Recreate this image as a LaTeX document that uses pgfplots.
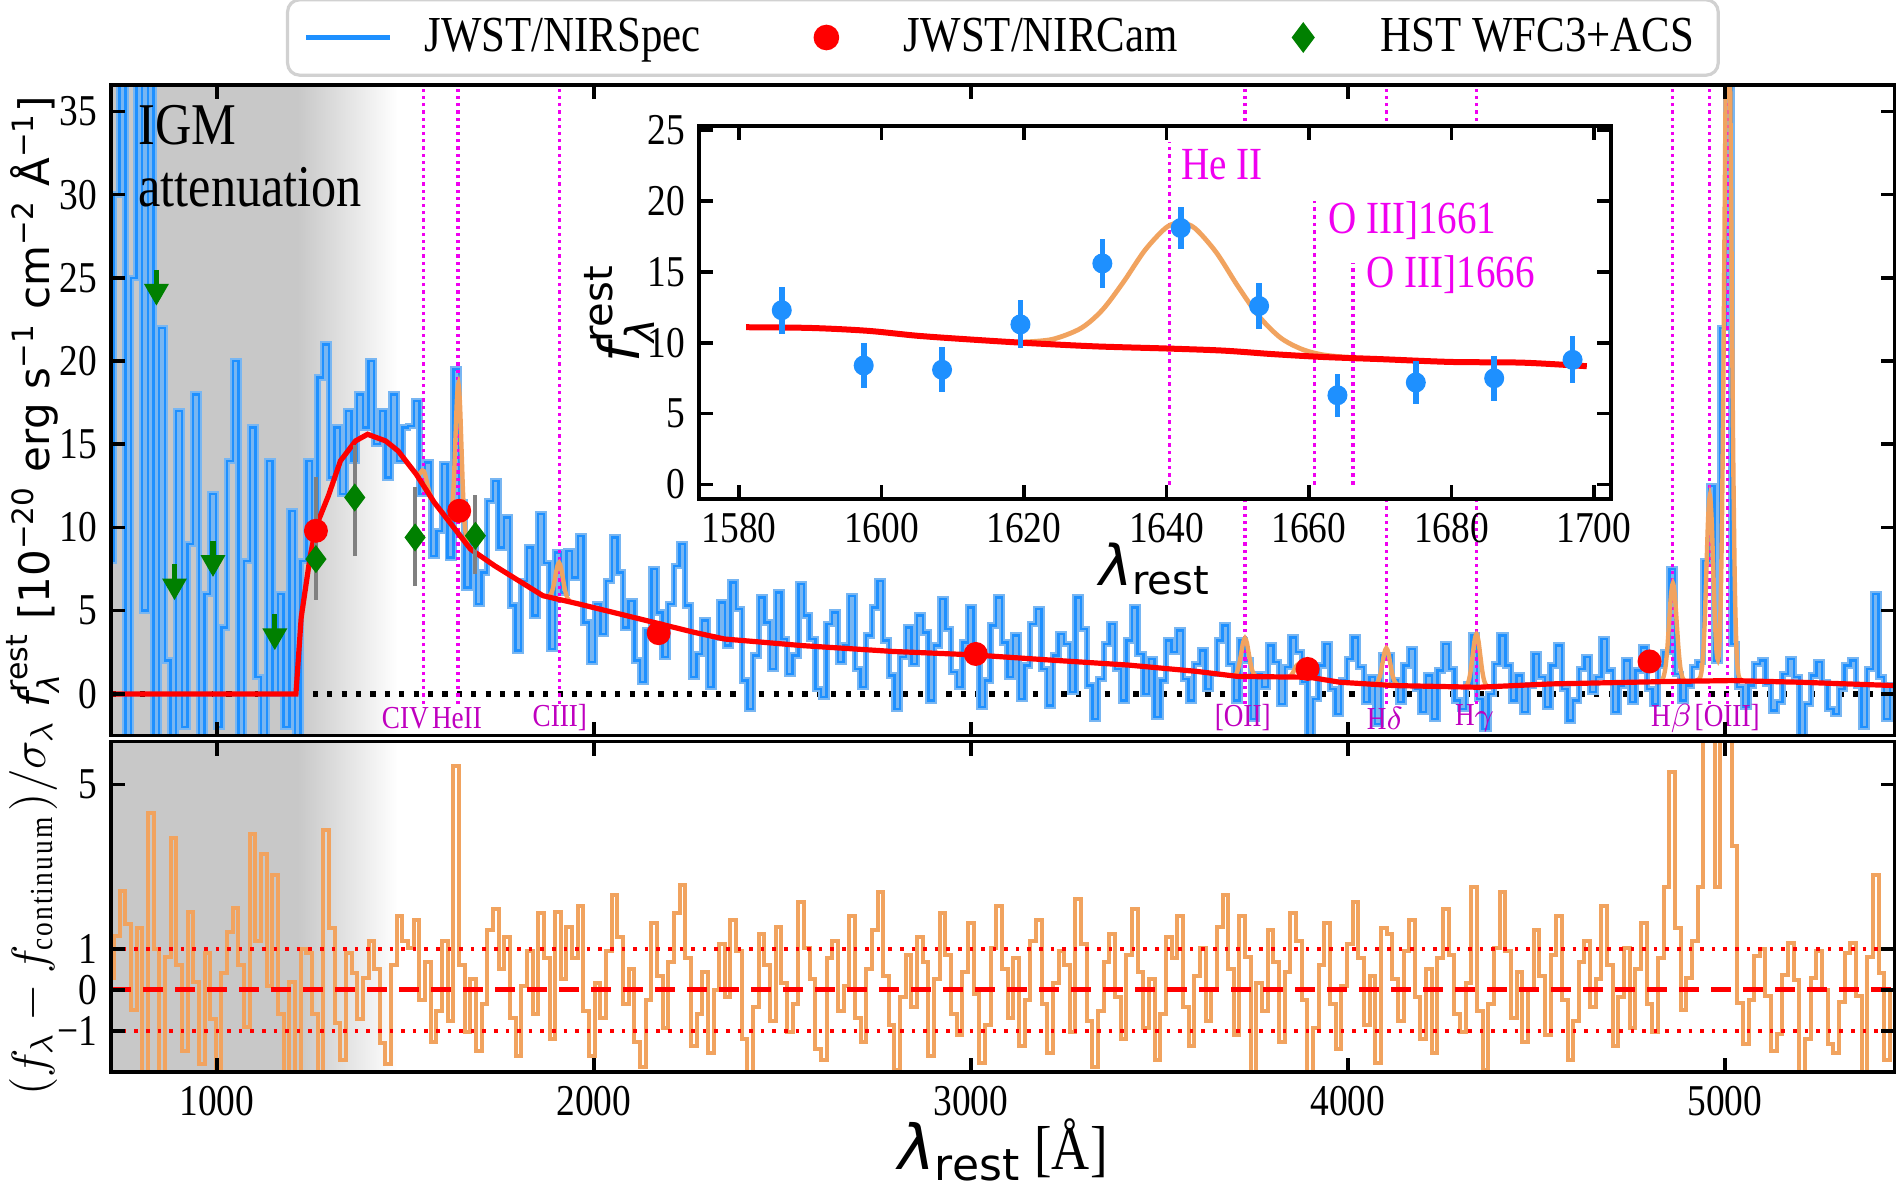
\documentclass[border=0pt]{standalone}
\usepackage{fontspec}
\setmainfont{Liberation Serif}[FakeStretch=0.85]
\newfontfamily\dejavu{DejaVu Sans}
\usepackage{pgfplots}
\usepackage{pgfplotstable}
\pgfplotsset{compat=1.18}
\definecolor{nirblue}{RGB}{30,144,255}
\definecolor{nirband}{RGB}{120,182,242}
\definecolor{modorange}{RGB}{241,163,95}
\definecolor{hstgreen}{RGB}{0,128,0}
\definecolor{lmag}{RGB}{240,0,240}
\definecolor{dmag}{RGB}{191,0,191}
\definecolor{igmgray}{RGB}{200,200,200}

\newcommand{\flam}[2]{$\hbox{\dejavu\itshape\fontsize{#1}{#1}\selectfont f}^{\hbox{\dejavu\fontsize{#2}{#2}\selectfont rest}}_{\hbox{\dejavu\itshape\fontsize{#2}{#2}\selectfont λ}}$}

\pgfplotsset{
  mystyle/.style={
    scale only axis,
    tick align=inside,
    xtick pos=both, ytick pos=both,
    major tick length=3.5pt,
    tick style={black, line width=0.9pt},
    axis line style={line width=0.9pt},
    tick label style={font=\fontsize{11}{12}\selectfont},
    /pgf/number format/assume math mode=true,
    /pgf/number format/1000 sep={},
    axis on top,
  },
  myline legend/.style={legend image code/.code={\draw[##1] (0pt,0pt) -- (21pt,0pt);}},
  mymark legend/.style={legend image code/.code={\path (0pt,0pt) (21pt,0pt); \draw[##1] plot coordinates {(10pt,0pt)};}},
}

\pgfplotstableread{
x y
720 8
735 30
750 38
765 -3
780 25
795 40
810 5
825 38
840 -4
855 22
870 2
885 -3
900 17
915 -2
930 9
945 18
960 -3
975 6
990 12
1005 -2
1020 4
1035 14
1050 20
1065 -3
1080 8
1095 16
1110 1
1125 -3
1140 14
1155 0
1170 6
1185 -2
1200 11
1215 -3
1230 8
1245 14
1260 10
1275 19
1290 21
1305 13
1320 16
1335 12
1350 17
1365 14
1380 18
1395 16
1410 20
1425 15
1440 17
1455 13
1470 18
1485 14
1500 16
1515 16.1
1530 17.6
1545 12.0
1560 13.9
1575 8.3
1590 9.8
1605 13.8
1620 8.2
1635 19.5
1650 11.5
1665 6.4
1680 9.3
1695 5.4
1710 7.3
1725 11.6
1740 12.8
1755 8.8
1770 10.6
1785 5.3
1800 2.6
1815 6.8
1830 8.8
1845 4.7
1860 10.8
1875 7.85
1890 2.7
1905 8.5
1920 6.1
1935 8.6
1950 7.0
1965 9.5
1980 4.3
1995 1.9
2010 5.4
2025 3.6
2040 6.8
2055 9.4
2070 7.3
2085 4.0
2100 5.6
2115 2.0
2130 0.7
2145 3.8
2160 7.5
2175 4.9
2190 2.2
2205 5.4
2220 7.7
2235 9.0
2250 5.3
2265 1.0
2280 2.4
2295 4.4
2310 0.4
2325 3.4
2340 5.5
2355 2.9
2370 6.7
2385 5.1
2400 0.8
2415 -0.9
2430 2.3
2445 5.8
2460 4.3
2475 1.5
2490 6.1
2505 3.3
2520 1.2
2535 2.3
2550 6.6
2565 4.7
2580 3.3
2595 0.3
2610 -0.2
2625 4.2
2640 4.9
2655 1.9
2670 2.9
2685 5.9
2700 1.5
2715 0.4
2730 3.5
2745 5.2
2760 6.8
2775 3.2
2790 1.1
2805 -0.9
2820 2.2
2835 4.0
2850 1.8
2865 4.7
2880 3.7
2895 -0.4
2910 2.9
2925 5.7
2940 3.9
2955 1.3
2970 0.4
2985 3.1
3000 5.2
3015 2.2
3030 -0.8
3045 0.8
3060 4.1
3075 5.8
3090 3.1
3105 1.0
3120 3.5
3135 -0.3
3150 1.7
3165 4.2
3180 5.1
3195 1.5
3210 -0.7
3225 2.3
3240 3.6
3255 3.0
3270 0.1
3285 5.8
3300 3.9
3315 0.5
3330 -1.5
3345 0.9
3360 3.0
3375 4.2
3390 1.5
3405 -0.4
3420 3.2
3435 5.2
3450 2.4
3465 0.0
3480 2.1
3495 -1.4
3510 0.8
3525 3.2
3540 2.5
3555 3.8
3570 0.9
3585 -0.4
3600 1.8
3615 2.6
3630 0.3
3645 1.2
3660 3.2
3675 4.1
3690 1.8
3705 -0.4
3720 3.2
3735 2.0
3750 -1.5
3765 1.2
3780 0.4
3795 2.9
3810 1.9
3825 -0.6
3840 1.6
3855 3.4
3870 2.5
3885 0.7
3900 -2.5
3915 -0.3
3930 1.7
3945 3.0
3960 0.3
3975 -1.2
3990 0.8
4005 2.1
4020 3.4
4035 1.6
4050 -0.5
4065 1.0
4080 -1.8
4095 2.3
4110 2.3
4125 0.8
4140 -0.5
4155 1.7
4170 2.7
4185 0.3
4200 -1.1
4215 1.1
4230 -1.5
4245 1.4
4260 3.0
4275 1.5
4290 -0.4
4305 -0.9
4320 0.6
4335 3.5
4350 -0.3
4365 -2.1
4380 0.0
4395 1.8
4410 3.5
4425 1.7
4440 -0.4
4455 1.1
4470 -1.1
4485 0.5
4500 2.4
4515 1.0
4530 -0.8
4545 1.7
4560 2.9
4575 0.3
4590 -1.6
4605 -0.4
4620 1.5
4635 2.2
4650 0.1
4665 1.0
4680 3.3
4695 1.4
4710 -1.1
4725 0.5
4740 2.0
4755 -0.5
4770 1.4
4785 2.8
4800 0.3
4815 -0.6
4830 1.7
4845 2.5
4860 7.5
4875 1.2
4890 -0.4
4905 0.5
4920 1.6
4935 1.9
4950 8.0
4965 12.5
4980 2.0
4995 22
5010 37
5025 3.0
5040 0.4
5055 -0.8
5070 0.5
5085 1.8
5100 2.0
5115 0.6
5130 -1.0
5145 -0.5
5160 1.2
5175 2.1
5190 1.0
5205 -2.5
5220 -0.6
5235 1.1
5250 1.9
5265 0.7
5280 -0.9
5295 -1.2
5310 0.3
5325 1.7
5340 2.0
5355 0.5
5370 -2.0
5385 1.5
5400 6.0
5415 1.0
5430 -1.5
5445 0.5
}\spec

\pgfplotstableread{
x y
720 0.3
735 1.3
750 2.4
765 1.6
780 -0.5
795 1.5
810 -2.2
825 4.3
840 1.0
855 -2.2
870 0.8
885 3.7
900 0.6
915 -1.5
930 1.9
945 0.2
960 -1.8
975 0.9
990 -0.7
1005 -2.3
1020 0.4
1035 1.4
1050 2.0
1065 0.6
1080 -0.9
1095 3.8
1110 1.2
1125 3.3
1140 0.1
1155 2.8
1170 -0.6
1185 -2.3
1200 0.2
1215 -2.5
1230 1.0
1245 0.9
1260 -0.6
1275 -2.3
1290 3.9
1305 1.5
1320 -0.8
1335 -1.7
1350 0.9
1365 0.4
1380 -0.7
1395 0.3
1410 1.2
1425 0.5
1440 -1.3
1455 -1.8
1470 0.6
1485 1.8
1500 1.2
1515 1.02
1530 1.7
1545 -0.26
1560 0.68
1575 -1.28
1590 -0.51
1605 1.19
1620 -0.77
1635 5.45
1650 0.6
1665 -1.02
1680 0.26
1695 -1.5
1710 -0.34
1725 1.45
1740 1.96
1755 0.51
1770 1.28
1785 -0.68
1800 -1.62
1815 0.09
1830 0.94
1845 -0.6
1860 1.87
1875 0.77
1890 -1.19
1905 1.9
1920 0.26
1935 1.53
1950 0.77
1965 2.04
1980 -0.51
1995 -1.62
2010 0.17
2025 -0.68
2040 0.94
2055 2.3
2070 1.28
2085 -0.34
2100 0.51
2115 -1.28
2130 -1.87
2145 -0.26
2160 1.62
2175 0.34
2190 -0.94
2205 0.68
2220 1.87
2235 2.55
2250 0.77
2265 -1.36
2280 -0.6
2295 0.43
2310 -1.53
2325 0.0
2340 1.11
2355 -0.17
2370 1.7
2385 0.94
2400 -1.19
2415 -2.04
2430 -0.43
2445 1.36
2460 0.6
2475 -0.77
2490 1.53
2505 0.17
2520 -1.02
2535 -0.34
2550 2.13
2565 1.02
2580 0.26
2595 -1.45
2610 -1.7
2625 0.77
2640 1.19
2655 -0.51
2670 0.09
2685 1.79
2700 -0.68
2715 -1.28
2730 0.51
2745 1.45
2760 2.38
2775 0.34
2790 -0.85
2805 -1.96
2820 -0.17
2835 0.85
2850 -0.43
2865 1.28
2880 0.68
2895 -1.62
2910 0.26
2925 1.87
2940 0.85
2955 -0.6
2970 -1.11
2985 0.43
3000 1.62
3015 -0.09
3030 -1.79
3045 -0.85
3060 1.02
3075 2.04
3090 0.51
3105 -0.68
3120 0.77
3135 -1.36
3150 -0.26
3165 1.19
3180 1.7
3195 -0.34
3210 -1.53
3225 0.17
3240 0.94
3255 0.6
3270 -1.02
3285 2.21
3300 1.11
3315 -0.77
3330 -1.87
3345 -0.51
3360 0.68
3375 1.36
3390 -0.17
3405 -1.19
3420 0.85
3435 1.96
3450 0.43
3465 -0.94
3480 0.26
3495 -1.7
3510 -0.6
3525 1.28
3540 0.77
3555 1.79
3570 -0.43
3585 -1.36
3600 0.34
3615 1.02
3630 -0.77
3645 0.0
3660 1.53
3675 2.3
3690 0.51
3705 -1.11
3720 1.8
3735 0.8
3750 -2.1
3765 0.17
3780 -0.51
3795 1.45
3810 0.68
3825 -1.28
3840 0.43
3855 1.87
3870 1.19
3885 -0.26
3900 -2.9
3915 -0.94
3930 0.6
3945 1.62
3960 -0.34
3975 -1.45
3990 0.09
4005 1.11
4020 2.13
4035 0.77
4050 -0.85
4065 0.34
4080 -1.79
4095 1.5
4110 1.36
4125 0.26
4140 -0.77
4155 0.94
4170 1.7
4185 -0.17
4200 -1.19
4215 0.51
4230 -1.53
4245 0.77
4260 1.96
4275 0.85
4290 -0.6
4305 -1.02
4320 0.17
4335 2.5
4350 -0.51
4365 -1.96
4380 -0.34
4395 1.02
4410 2.38
4425 0.94
4440 -0.68
4455 0.43
4470 -1.28
4485 0.0
4500 1.45
4515 0.34
4530 -1.11
4545 0.85
4560 1.79
4575 -0.26
4590 -1.7
4605 -0.77
4620 0.68
4635 1.19
4650 -0.43
4665 0.26
4680 2.04
4695 0.6
4710 -1.36
4725 -0.17
4740 1.02
4755 -0.94
4770 0.51
4785 1.62
4800 -0.34
4815 -1.02
4830 0.77
4845 2.5
4860 5.3
4875 1.5
4890 -0.5
4905 0.3
4920 1.2
4935 2.5
4950 6.5
4965 6.5
4980 2.5
4995 6.5
5010 6.5
5025 3.5
5040 -0.33
5055 -1.33
5070 -0.25
5085 0.83
5100 1.0
5115 -0.15
5130 -1.5
5145 -1.08
5160 0.37
5175 1.15
5190 0.25
5205 -2.6
5220 -1.2
5235 0.3
5250 0.95
5265 0.0
5280 -1.33
5295 -1.55
5310 -0.3
5325 0.9
5340 1.15
5355 -0.15
5370 -2.2
5385 0.8
5400 2.8
5415 0.4
5430 -1.7
5445 0.0
}\resid

\begin{document}
\begin{tikzpicture}
\path[use as bounding box] (-27.8pt,-112.8pt) rectangle (446.5pt,183.9pt);

% ================= TOP PANEL =================
\begin{axis}[mystyle, name=top, at={(0pt,0pt)}, anchor=south west,
  width=445.9pt, height=162.7pt,
  xmin=720, xmax=5450, ymin=-2.5, ymax=36.6,
  xtick={1000,2000,3000,4000,5000}, xticklabels={},
  ytick={0,5,10,15,20,25,30,35},
  ylabel={\flam{10.5}{7.5}{\dejavu\fontsize{10.5}{12}\selectfont\ [10\textsuperscript{−20} erg s\textsuperscript{−1} cm\textsuperscript{−2} Å\textsuperscript{−1}]}},
  ylabel style={at={(axis description cs:-0.0437,0.513)}, anchor=center},
  legend style={at={(0.5,1)}, anchor=south, yshift=2pt, legend columns=3,
    draw=black!18, line width=0.8pt, rounded corners=3pt,
    font=\fontsize{12.6}{14}\selectfont, inner xsep=4pt, inner ysep=2.5pt,
    /tikz/every odd column/.append style={column sep=6pt},
    /tikz/every even column/.append style={column sep=19pt}},
  legend cell align=left,
]
\addlegendimage{myline legend, nirblue, line width=1.3pt}
\addlegendentry{JWST/NIRSpec}
\addlegendimage{mymark legend, only marks, mark=*, red, mark size=2.8pt}
\addlegendentry{JWST/NIRCam}
\addlegendimage{mymark legend, only marks, mark=diamond*, hstgreen, mark size=3.2pt}
\addlegendentry{HST WFC3+ACS}

\fill[igmgray] (axis cs:700,-5) rectangle (axis cs:1215,40);
\shade[left color=igmgray, right color=white] (axis cs:1215,-5) rectangle (axis cs:1480,40);

\addplot[forget plot, black, line width=1.3pt, dash pattern=on 1.3pt off 2.3pt] coordinates {(720,0) (5450,0)};

\addplot[forget plot, const plot mark mid, nirband, line width=1.6pt] table[x=x,y=y]{\spec};
\addplot[forget plot, const plot mark mid, nirblue, line width=0.6pt] table[x=x,y=y]{\spec};

% line markers
\addplot[forget plot, lmag, densely dotted, line width=0.8pt] coordinates {(1549,-0.6) (1549,36.6)};
\addplot[forget plot, lmag, densely dotted, line width=0.8pt] coordinates {(1640,-0.6) (1640,36.6)};
\addplot[forget plot, lmag, densely dotted, line width=0.8pt] coordinates {(1908,-0.6) (1908,36.6)};
\addplot[forget plot, lmag, densely dotted, line width=0.8pt] coordinates {(3727,-0.6) (3727,36.6)};
\addplot[forget plot, lmag, densely dotted, line width=0.8pt] coordinates {(4102,-0.6) (4102,36.6)};
\addplot[forget plot, lmag, densely dotted, line width=0.8pt] coordinates {(4341,-0.6) (4341,36.6)};
\addplot[forget plot, lmag, densely dotted, line width=0.8pt] coordinates {(4861,-0.6) (4861,36.6)};
\addplot[forget plot, lmag, densely dotted, line width=0.8pt] coordinates {(4959,-0.6) (4959,36.6)};
\addplot[forget plot, lmag, densely dotted, line width=0.8pt] coordinates {(5007,-0.6) (5007,36.6)};

% model with lines (orange)
\addplot[forget plot, modorange, line width=1.1pt, smooth] coordinates {(1525,13.35)(1529,13.24)(1533,13.18)(1537,13.21)(1541,13.32)(1545,13.42)(1549,13.39)(1553,13.14)(1557,12.76)(1561,12.36)(1565,12.05)(1569,11.83)(1573,11.65)};
\addplot[forget plot, modorange, line width=1.1pt, smooth] coordinates {(1617,10.43)(1621,10.62)(1625,11.32)(1629,12.9)(1633,15.33)(1637,17.69)(1641,18.63)(1645,17.46)(1649,14.86)(1653,12.2)(1657,10.39)(1661,9.45)(1665,9.03)};
\addplot[forget plot, modorange, line width=1.1pt, smooth] coordinates {(1878,5.86)(1883,5.91)(1888,6.08)(1893,6.47)(1898,7.06)(1903,7.65)(1908,7.88)(1913,7.59)(1918,6.96)(1923,6.31)(1928,5.88)(1933,5.65)(1938,5.54)};
\addplot[forget plot, modorange, line width=1.1pt, smooth] coordinates {(3697,1.08)(3702,1.15)(3707,1.36)(3712,1.8)(3717,2.44)(3722,3.08)(3727,3.35)(3732,3.08)(3737,2.44)(3742,1.8)(3747,1.36)(3752,1.15)(3757,1.08)};
\addplot[forget plot, modorange, line width=1.1pt, smooth] coordinates {(3839,1.01)(3844,1.04)(3849,1.11)(3854,1.26)(3859,1.49)(3864,1.71)(3869,1.8)(3874,1.71)(3879,1.49)(3884,1.26)(3889,1.11)(3894,1.04)(3899,1.01)};
\addplot[forget plot, modorange, line width=1.1pt, smooth] coordinates {(4072,0.57)(4077,0.65)(4082,0.85)(4087,1.26)(4092,1.88)(4097,2.49)(4102,2.75)(4107,2.49)(4112,1.88)(4117,1.26)(4122,0.85)(4127,0.65)(4132,0.57)};
\addplot[forget plot, modorange, line width=1.1pt, smooth] coordinates {(4311,0.44)(4316,0.54)(4321,0.83)(4326,1.44)(4331,2.34)(4336,3.22)(4341,3.6)(4346,3.22)(4351,2.34)(4356,1.44)(4361,0.83)(4366,0.54)(4371,0.44)};
\addplot[forget plot, modorange, line width=1.1pt, smooth] coordinates {(4832,0.81)(4837,1.01)(4842,1.55)(4847,2.67)(4852,4.33)(4857,5.96)(4862,6.65)(4867,5.96)(4872,4.33)(4877,2.67)(4882,1.55)(4887,1.01)(4892,0.81)};
\addplot[forget plot, modorange, line width=1.1pt, smooth] coordinates {(4925,0.82)(4933,0.92)(4937.5,1.29)(4942,2.3)(4946.5,4.4)(4951,7.53)(4955.5,10.6)(4960,11.9)(4964.5,10.6)(4969,7.53)(4973.5,4.43)(4978,2.47)(4982.5,2.11)(4987,3.88)(4991.5,9.22)(4995.5,17.9)(5000,31.1)(5004,41.6)(5008,45.8)(5012.5,40.5)(5017,28.1)(5021.5,15.4)(5026,6.9)(5030.5,2.78)(5035,1.3)(5040,0.88)(5050,0.8)};

% continuum model (red)
\addplot[forget plot, red, line width=1.3pt] coordinates {(720,0)(1210,0)(1224,4.6)(1248,8.3)(1264,10.1)(1296,11.9)(1328,14.0)(1368,15.2)(1400,15.6)(1448,15.2)(1481,14.6)(1529,13.2)(1577,11.5)(1625,10.1)(1673,8.7)(1737,7.7)(1801,6.8)(1865,5.9)(1961,5.4)(2105,4.6)(2266,3.7)(2346,3.3)(2554,2.9)(2794,2.55)(3003,2.35)(3200,2.05)(3419,1.73)(3600,1.35)(3708,1.05)(3898,1.0)(3979,0.7)(4123,0.5)(4346,0.4)(4539,0.6)(4859,0.75)(5019,0.8)(5200,0.7)(5450,0.5)};

% HST detections with gray errors
\addplot[forget plot, only marks, mark=diamond*, hstgreen, mark size=3.2pt,
  error bars/.cd, y dir=both, y explicit,
  error bar style={gray, line width=1pt},
  error mark options={gray, line width=1pt, mark size=2.2pt}]
  coordinates {(1263,8.1) += (0,4.4) -= (0,1.9)
               (1366,11.8) += (0,2.6) -= (0,3.0)
               (1526,9.4) += (0,2.5) -= (0,2.4)
               (1686,9.5) += (0,1.9) -= (0,1.75)};
% HST upper limits
\addplot[forget plot, only marks, mark=triangle*, hstgreen, mark size=3.2pt, mark options={rotate=180},
  error bars/.cd, y dir=plus, y fixed=0.75,
  error bar style={hstgreen, line width=1.3pt},
  error mark options={hstgreen, line width=1.3pt, mark size=2.2pt}]
  coordinates {(840,24.2) (888,6.5) (990,7.9) (1154,3.5)};
% NIRCam photometry
\addplot[forget plot, only marks, mark=*, red, mark size=2.8pt]
  coordinates {(1263,9.8) (1643,11.0) (2172,3.65) (3013,2.4) (3893,1.5) (4800,1.95)};

\node[anchor=north west, align=left, font=\fontsize{14.8}{15.5}\selectfont, inner sep=0pt] at (axis cs:790,35.4) {IGM\\attenuation};

\begin{scope}[every node/.style={dmag, font=\fontsize{8}{9}\selectfont, inner sep=0pt, anchor=center}]
\node at (axis cs:1500,-1.45) {CIV};
\node at (axis cs:1637,-1.45) {HeII};
\node at (axis cs:1910,-1.45) {CIII]};
\node at (axis cs:3721,-1.45) {[OII]};
\node at (axis cs:4098,-1.45) {H$\delta$};
\node at (axis cs:4336,-1.45) {H$\gamma$};
\node at (axis cs:4858,-1.45) {H$\beta$};
\node at (axis cs:5006,-1.45) {[OIII]};
\end{scope}
\end{axis}

% ================= BOTTOM PANEL =================
\begin{axis}[mystyle, name=bot, at={(0pt,-1.5pt)}, anchor=north west,
  width=445.9pt, height=82.6pt,
  xmin=720, xmax=5450, ymin=-2, ymax=6.05,
  xtick={1000,2000,3000,4000,5000},
  ytick={-1,0,1,5}, yticklabels={−1,0,1,5},
  xlabel={\fontsize{15.5}{17}\selectfont $\hbox{\dejavu\itshape λ}_{\hbox{\dejavu\fontsize{11}{12}\selectfont rest}}$ [Å]},
  xlabel style={at={(axis description cs:0.5,-0.235)}, anchor=center},
  ylabel={\fontsize{11.5}{13}\selectfont $(f_\lambda - f_{\mathrm{continuum}})/\sigma_\lambda$},
  ylabel style={at={(axis description cs:-0.0437,0.495)}, anchor=center},
]
\fill[igmgray] (axis cs:700,-5) rectangle (axis cs:1215,10);
\shade[left color=igmgray, right color=white] (axis cs:1215,-5) rectangle (axis cs:1480,10);
\addplot[const plot mark mid, modorange, line width=1pt] table[x=x,y=y]{\resid};
\addplot[red, line width=1.2pt, dash pattern=on 5pt off 3pt] coordinates {(720,0) (5450,0)};
\addplot[red, line width=0.9pt, dotted] coordinates {(720,1) (5450,1)};
\addplot[red, line width=0.9pt, dotted] coordinates {(720,-1) (5450,-1)};
\end{axis}

% ================= INSET =================
\begin{axis}[mystyle, name=inset, at={(147pt,152.4pt)}, anchor=north west,
  width=228pt, height=93.2pt,
  xmin=1574.4, xmax=1702.4, ymin=-1, ymax=25.3,
  xtick={1580,1600,1620,1640,1660,1680,1700},
  ytick={0,5,10,15,20,25},
  axis background/.style={fill=white},
  xlabel={\fontsize{14}{15}\selectfont $\hbox{\dejavu\itshape λ}_{\hbox{\dejavu\fontsize{10}{11}\selectfont rest}}$},
  xlabel style={at={(axis description cs:0.5,-0.188)}, anchor=center},
  ylabel={\fontsize{14}{15}\selectfont \flam{14}{10}},
  ylabel style={at={(axis description cs:-0.0875,0.497)}, anchor=center},
]
\addplot[lmag, densely dotted, line width=0.9pt] coordinates {(1640.4,0) (1640.4,24.2)};
\addplot[lmag, densely dotted, line width=0.9pt] coordinates {(1660.8,0) (1660.8,20.0)};
\addplot[lmag, densely dotted, line width=0.9pt] coordinates {(1666.2,0) (1666.2,15.6)};
\addplot[modorange, line width=1.2pt, smooth] coordinates {(1620,10.06)(1624,10.25)(1628,11.03)(1631,12.32)(1634,14.32)(1637,16.55)(1640,18.15)(1642,18.46)(1644,18.08)(1647,16.37)(1650,14.01)(1653,11.86)(1656,10.36)(1659,9.55)(1662,9.15)(1666,8.95)};
\addplot[red, line width=1.5pt, smooth] coordinates {(1581,11.1)(1590,11.05)(1598,10.85)(1605,10.5)(1612,10.25)(1620,10.0)(1630,9.75)(1640,9.6)(1648,9.45)(1655,9.2)(1662,9.0)(1670,8.85)(1680,8.65)(1690,8.6)(1699,8.35)};
\addplot[only marks, mark=*, nirblue, mark size=2.3pt,
  error bars/.cd, y dir=both, y explicit,
  error bar style={nirblue, line width=1.4pt}, error mark=none]
  coordinates {(1586,12.3) +- (0,1.65) (1597.5,8.4) +- (0,1.6) (1608.5,8.1) +- (0,1.6)
               (1619.5,11.3) +- (0,1.7) (1631,15.6) +- (0,1.7) (1642,18.1) +- (0,1.5)
               (1653,12.6) +- (0,1.6) (1664,6.3) +- (0,1.5) (1675,7.2) +- (0,1.5)
               (1686,7.5) +- (0,1.6) (1697,8.8) +- (0,1.65)};
\node[lmag, anchor=west, inner sep=0pt, font=\fontsize{11.5}{12}\selectfont] at (axis cs:1642,22.6) {He II};
\node[lmag, anchor=west, inner sep=0pt, font=\fontsize{11.5}{12}\selectfont] at (axis cs:1662.6,18.6) {O III]1661};
\node[lmag, anchor=west, inner sep=0pt, font=\fontsize{11.5}{12}\selectfont] at (axis cs:1668,14.8) {O III]1666};
\end{axis}
\end{tikzpicture}
\end{document}
